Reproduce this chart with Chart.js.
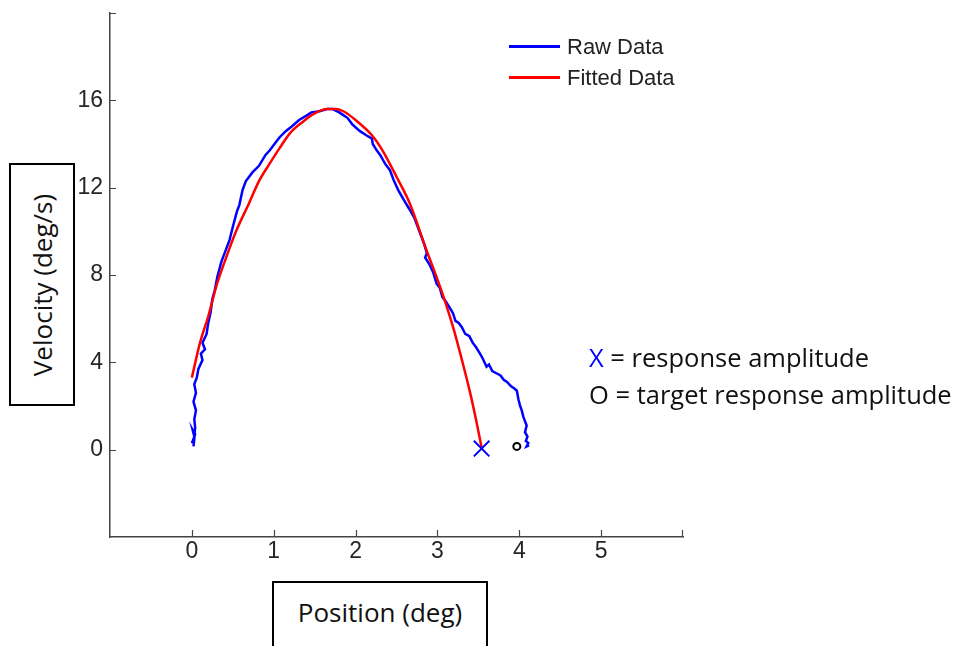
<!DOCTYPE html>
<html>
<head>
<meta charset="utf-8">
<script src="https://cdn.jsdelivr.net/npm/chart.js@4.4.1/dist/chart.umd.min.js"></script>
<style>
  html, body { margin: 0; padding: 0; background: #fff; }
  #wrap { position: relative; width: 958px; height: 646px; overflow: hidden; }
  canvas { position: absolute; left: 0; top: 0; }
  .box { position: absolute; border: 2px solid #000; background: #fff; box-sizing: border-box;
         font-family: "Open Sans", Lato, sans-serif; font-size: 26px; color: #111;
         display: flex; align-items: center; justify-content: center; white-space: nowrap; }
  #ytitle span { display: inline-block; transform: rotate(-90deg); }
  .note { position: absolute; font-family: "Open Sans", Lato, sans-serif; font-size: 25.5px; color: #111; white-space: nowrap; }
  .leg { position: absolute; font-family: "Liberation Sans", Arial, sans-serif; font-size: 22px; color: #222; white-space: nowrap; }
  .sw { position: absolute; height: 3px; width: 51px; }
</style>
</head>
<body>
<div id="wrap">
  <canvas id="c" width="958" height="646"></canvas>
  <div class="box" id="ytitle" style="left:9px;top:163px;width:66px;height:243px;"><span>Velocity (deg/s)</span></div>
  <div class="box" id="xtitle" style="left:272px;top:581px;width:216px;height:80px;padding-bottom:18px;">Position (deg)</div>
  <div class="note" style="left:589px;top:340px;"><span style="color:#0000ff">X</span> = response amplitude</div>
  <div class="note" style="left:589px;top:377px;">O = target response amplitude</div>
  <div class="sw" style="left:509px;top:45px;background:#0000ff;"></div>
  <div class="leg" style="left:567px;top:34px;">Raw Data</div>
  <div class="sw" style="left:509px;top:76px;background:#ff0000;"></div>
  <div class="leg" style="left:567px;top:65px;">Fitted Data</div>
</div>
<script>
// ---- data ----
const xTickValues = [0, 1, 2, 3, 4, 5];
const yTickValues = [0, 4, 8, 12, 16];

const rawX = [0.02,0.03,0.00,0.04,0.01,0.03,0.04,0.03,0.05,0.02,0.05,0.03,0.06,0.08,0.13,0.11,0.16,0.13,0.18,0.20,0.23,0.25,0.28,0.31,0.36,0.40,0.46,0.50,0.55,0.58,0.62,0.66,0.74,0.82,0.90,0.95,1.03,1.07,1.15,1.22,1.31,1.40,1.46,1.56,1.65,1.72,1.80,1.86,1.90,1.96,2.05,2.13,2.20,2.21,2.26,2.30,2.36,2.42,2.47,2.52,2.58,2.66,2.72,2.75,2.80,2.84,2.87,2.85,2.90,2.95,2.99,3.03,3.06,3.10,3.15,3.19,3.22,3.26,3.30,3.34,3.39,3.43,3.47,3.52,3.55,3.60,3.63,3.67,3.72,3.77,3.81,3.85,3.90,3.94,3.97,3.99,4.01,4.03,4.05,4.09,4.07,4.10,4.08,4.11,4.09,4.12];
const rawY = [0.15,0.5,0.3,0.7,0.9,0.6,1.0,1.4,1.8,2.2,2.6,3.0,3.3,3.7,4.1,4.4,4.6,4.9,5.3,5.8,6.3,6.9,7.3,7.9,8.6,9.0,9.6,10.2,10.9,11.2,11.9,12.3,12.7,13.0,13.5,13.7,14.1,14.3,14.6,14.8,15.1,15.3,15.45,15.5,15.6,15.6,15.45,15.3,15.2,14.9,14.6,14.4,14.25,14.0,13.7,13.5,13.1,12.8,12.3,11.9,11.5,11.0,10.6,10.3,9.8,9.4,9.0,8.8,8.5,8.1,7.6,7.4,7.0,6.8,6.5,6.25,5.9,5.8,5.6,5.3,5.2,4.9,4.7,4.4,4.2,3.8,3.9,3.6,3.5,3.4,3.2,3.1,2.9,2.8,2.7,2.3,2.0,1.8,1.5,1.1,0.8,0.6,0.4,0.3,0.15,0.2];

const fitX = [0,0.1,0.2,0.3,0.4,0.54,0.7,0.82,0.95,1.07,1.2,1.35,1.5,1.65,1.75,1.85,2.0,2.2,2.33,2.5,2.66,2.87,3.0,3.11,3.2,3.3,3.4,3.47,3.54];
const fitY = [3.3,4.9,6.1,7.5,8.6,10.0,11.3,12.3,13.1,13.8,14.5,15.0,15.4,15.6,15.6,15.5,15.1,14.4,13.7,12.5,11.3,9.1,7.8,6.6,5.5,4.1,2.6,1.4,0.1];

const responseAmp = [3.54, 0.05];   // X marker (position, velocity)
const targetAmp = [3.97, 0.15];     // O marker

const toPts = (xs, ys) => xs.map((x, i) => ({ x: x, y: ys[i] }));

const inwardTicks = {
  id: 'inwardTicks',
  afterDraw(chart) {
    const { ctx, chartArea: a, scales } = chart;
    ctx.save();
    ctx.strokeStyle = '#444';
    ctx.lineWidth = 1.2;
    ctx.beginPath();
    xTickValues.forEach(v => {
      const px = Math.round(scales.x.getPixelForValue(v)) + 0.5;
      ctx.moveTo(px, a.bottom); ctx.lineTo(px, a.bottom - 7);
    });
    ctx.moveTo(a.right - 0.5, a.bottom); ctx.lineTo(a.right - 0.5, a.bottom - 7);
    yTickValues.forEach(v => {
      const py = Math.round(scales.y.getPixelForValue(v)) + 0.5;
      ctx.moveTo(a.left, py); ctx.lineTo(a.left + 6, py);
    });
    ctx.moveTo(a.left, a.top + 0.5); ctx.lineTo(a.left + 6, a.top + 0.5);
    ctx.stroke();
    ctx.restore();
  }
};

new Chart(document.getElementById('c'), {
  type: 'scatter',
  data: {
    datasets: [
      { label: 'response amplitude', data: [{ x: responseAmp[0], y: responseAmp[1] }],
        pointStyle: 'crossRot', pointRadius: 11, borderColor: '#0000ff', borderWidth: 2, order: 0 },
      { label: 'target response amplitude', data: [{ x: targetAmp[0], y: targetAmp[1] }],
        pointStyle: 'circle', pointRadius: 3.5, borderColor: '#000', backgroundColor: '#fff', borderWidth: 2, order: 0 },
      { label: 'Fitted Data', data: toPts(fitX, fitY), showLine: true, pointRadius: 0,
        borderColor: '#ff0000', borderWidth: 2.5, tension: 0.4, cubicInterpolationMode: 'monotone', order: 1 },
      { label: 'Raw Data', data: toPts(rawX, rawY), showLine: true, pointRadius: 0,
        borderColor: '#0000ff', borderWidth: 2.5, tension: 0, order: 2 }
    ]
  },
  options: {
    responsive: false,
    animation: false,
    layout: { padding: { left: 0, right: 275, top: 12, bottom: 0 } },
    plugins: { legend: { display: false }, tooltip: { enabled: false } },
    scales: {
      x: {
        type: 'linear', min: -1, max: 6,
        afterFit: s => { s.height = 109; s.paddingLeft = 0; s.paddingRight = 0; },
        afterBuildTicks: s => { s.ticks = xTickValues.map(v => ({ value: v })); },
        grid: { display: false, drawTicks: false },
        border: { display: true, color: '#444', width: 1.5 },
        ticks: { padding: 1, color: '#262626', font: { family: "'Liberation Sans', Arial, sans-serif", size: 23 }, maxRotation: 0 }
      },
      y: {
        type: 'linear', min: -4, max: 20,
        afterFit: s => { s.width = 110; s.paddingTop = 0; s.paddingBottom = 0; },
        afterBuildTicks: s => { s.ticks = yTickValues.map(v => ({ value: v })); },
        grid: { display: false, drawTicks: false },
        border: { display: true, color: '#444', width: 1.5 },
        ticks: { padding: 7, color: '#262626', font: { family: "'Liberation Sans', Arial, sans-serif", size: 23 } }
      }
    }
  },
  plugins: [inwardTicks]
});
</script>
</body>
</html>
